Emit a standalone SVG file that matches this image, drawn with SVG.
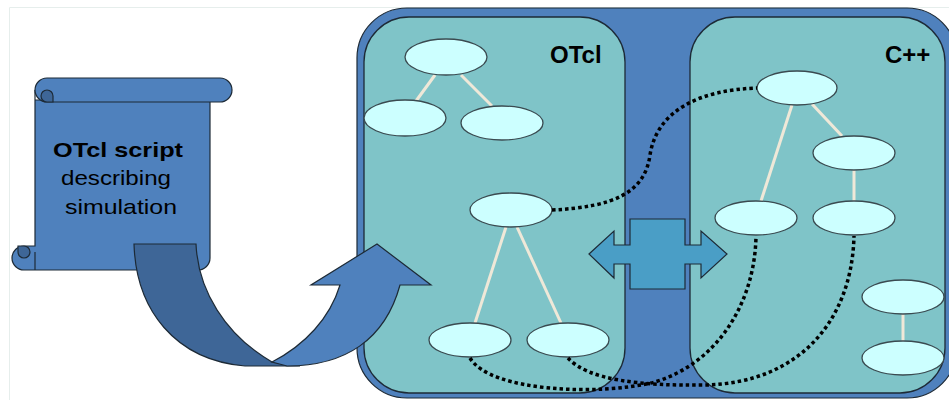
<svg xmlns="http://www.w3.org/2000/svg" width="949" height="400" viewBox="0 0 949 400">
<style>
.node{fill:#CCFFFF;stroke:#3a4a50;stroke-width:1.3}
.tree{stroke:#EFE8D8;stroke-width:3;fill:none}
.dot{stroke:#000;stroke-width:3.5;fill:none;stroke-dasharray:3.5 3}
.panel{fill:#7FC4C8;stroke:#1d2a36;stroke-width:1.3}
.blue{fill:#4F81BD;stroke:#1d2a36;stroke-width:1.2}
.dark{fill:#3E6697;stroke:#1d2a36;stroke-width:1.2}
.lbl{font-family:"Liberation Sans",Arial,sans-serif;font-weight:bold;font-size:24px;fill:#000}
.st{font-family:"Liberation Sans",Arial,sans-serif;font-size:21px;fill:#000;text-anchor:middle}
</style>
<rect width="949" height="400" fill="#fff"/>
<path d="M9.5,400 L9.5,7.5 L949,7.5" fill="none" stroke="#e6eeec" stroke-width="1"/>

<g id="outer-panel">
<rect x="357" y="8" width="600" height="390" rx="50" class="blue"/>
</g>
<g id="otcl-panel">
<rect x="364" y="17" width="261" height="376" rx="45" class="panel"/>
<text x="550" y="63" class="lbl">OTcl</text>
</g>
<g id="cpp-panel">
<rect x="690" y="17" width="255" height="376" rx="45" class="panel"/>
<text x="885" y="63" class="lbl">C++</text>
</g>

<g id="tree-lines">
<line x1="435" y1="75" x2="416" y2="101" class="tree"/>
<line x1="461" y1="75" x2="492" y2="106" class="tree"/>
<line x1="506" y1="227" x2="475" y2="323" class="tree"/>
<line x1="517" y1="227" x2="561" y2="323" class="tree"/>
<line x1="792" y1="105" x2="761" y2="201" class="tree"/>
<line x1="812" y1="104" x2="842" y2="136" class="tree"/>
<line x1="854" y1="170" x2="854" y2="201" class="tree"/>
<line x1="903" y1="314" x2="903" y2="341" class="tree"/>
</g>

<g id="otcl-root"><ellipse cx="446" cy="57" rx="41" ry="18" class="node"/></g>
<g id="otcl-left"><ellipse cx="405" cy="118" rx="41" ry="18" class="node"/></g>
<g id="otcl-right"><ellipse cx="502" cy="123" rx="41" ry="17" class="node"/></g>
<g id="otcl-mid"><ellipse cx="511" cy="210" rx="41" ry="17" class="node"/></g>
<g id="otcl-bl"><ellipse cx="470" cy="340" rx="41" ry="17" class="node"/></g>
<g id="otcl-br"><ellipse cx="568" cy="340" rx="41" ry="17" class="node"/></g>
<g id="cpp-root"><ellipse cx="797" cy="88" rx="40" ry="17" class="node"/></g>
<g id="cpp-second"><ellipse cx="854" cy="153" rx="41" ry="17" class="node"/></g>
<g id="cpp-left"><ellipse cx="756" cy="218" rx="41" ry="17" class="node"/></g>
<g id="cpp-right"><ellipse cx="854" cy="218" rx="41" ry="17" class="node"/></g>
<g id="cpp-top2"><ellipse cx="903" cy="297" rx="41" ry="17" class="node"/></g>
<g id="cpp-bot2"><ellipse cx="903" cy="358" rx="41" ry="17" class="node"/></g>

<g id="connectors">
<path class="dot" d="M552,210 C615,207 645,192 650,155 C657,110 700,90 757,88"/>
<path class="dot" d="M470,358 C490,392 600,396 655,382 C720,362 755,300 756,236"/>
<path class="dot" d="M568,358 C588,380 640,386 705,385 C800,383 852,320 854,236"/>
</g>

<g id="bridge">
<path d="M589,254 L614,231 L614,245 L630,245 L630,219 L685,219 L685,245 L701,245 L701,231 L727,254 L701,278 L701,264 L685,264 L685,289 L630,289 L630,264 L614,264 L614,278 Z" fill="#4A9EC6" stroke="#1d2a36" stroke-width="1.2"/>
</g>

<g id="scroll">
<path class="blue" d="M35,90 L35,246 L24,246 A12,12 0 0 0 24,270 L198,270 A12,12 0 0 0 210,258 L210,100 L35,100 Z"/>
<path class="blue" d="M47,78 L220,78 A12,12 0 0 1 220,102 L47,102 A12,12 0 0 1 47,78 Z"/>
<path class="dark" d="M47,102 A6,6 0 0 1 47,90 A6,6 0 0 1 53,96 L53,102 Z"/>
<path class="dark" d="M24,246 A6,6 0 0 1 24,258 A6,6 0 0 1 18,252 L18,246 Z"/>
<path d="M35,252 L35,270" fill="none" stroke="#1d2a36" stroke-width="1.2"/>
<text class="st" style="font-weight:bold" x="118" y="157" textLength="130" lengthAdjust="spacingAndGlyphs">OTcl script</text>
<text class="st" x="116" y="185" textLength="110" lengthAdjust="spacingAndGlyphs">describing</text>
<text class="st" x="121" y="214" textLength="112" lengthAdjust="spacingAndGlyphs">simulation</text>
</g>

<g id="uturn-arrow">
<path class="dark" d="M134,244 L196,244 C198,290 225,335 272,362 L300,366 L245,366 C175,360 136,310 134,244 Z"/>
<path class="blue" d="M272,362 C305,345 330,318 340,285 L311,285 L377,244 L431,285 L400,285 C385,340 345,366 287,366 Z"/>
</g>
</svg>
